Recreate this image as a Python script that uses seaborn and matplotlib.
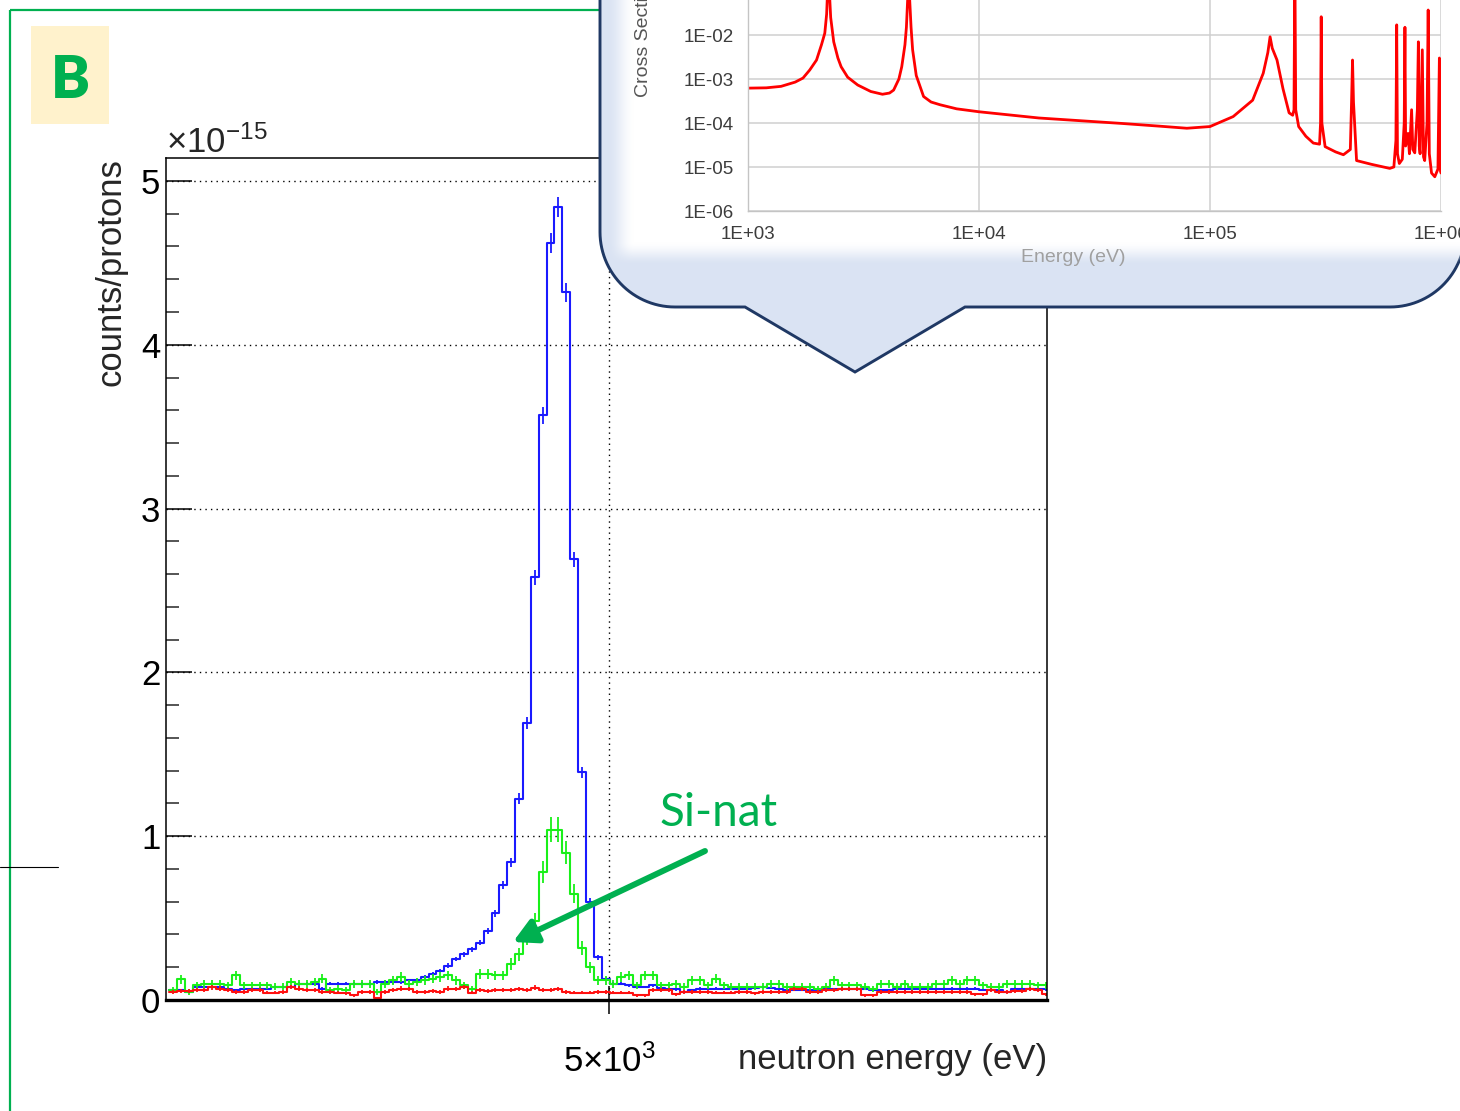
import numpy as np
import pandas as pd
import matplotlib
matplotlib.use("Agg")
import matplotlib.pyplot as plt
import seaborn as sns
from matplotlib.path import Path
from matplotlib.patches import PathPatch, Rectangle, FancyArrowPatch, ArrowStyle
from matplotlib.ticker import FixedLocator, FixedFormatter, NullLocator, MultipleLocator

# ---------------------------------------------------------------- data
# Neutron energy spectrum, counts per proton in units of 1e-15,
# 112 logarithmic bins between E_MIN and E_MAX (eV).
E_MIN, E_MAX = 2492.0, 10048.0
N_BINS = 112
AXIS_RANGE = (2480.0, 10000.0)

enriched_counts = [
    0.06, 0.06, 0.05, 0.08, 0.08, 0.08, 0.08, 0.07, 0.06, 0.07,
    0.07, 0.07, 0.07, 0.08, 0.08, 0.08, 0.10, 0.10, 0.10, 0.07,
    0.10, 0.10, 0.10, 0.10, 0.10, 0.10, 0.11, 0.11, 0.11, 0.11,
    0.12, 0.12, 0.14, 0.16, 0.18, 0.21, 0.25, 0.28, 0.31, 0.35,
    0.42, 0.53, 0.70, 0.84, 1.23, 1.69, 2.58, 3.57, 4.62, 4.84,
    4.32, 2.69, 1.39, 0.60, 0.26, 0.13, 0.10, 0.10, 0.09, 0.08,
    0.08, 0.09, 0.075, 0.065, 0.065, 0.05, 0.06, 0.07, 0.07, 0.07,
    0.07, 0.07, 0.07, 0.07, 0.075, 0.08, 0.075, 0.065, 0.06, 0.06,
    0.06, 0.06, 0.06, 0.065, 0.065, 0.07, 0.07, 0.07, 0.07, 0.06,
    0.06, 0.06, 0.065, 0.065, 0.065, 0.065, 0.065, 0.065, 0.07, 0.07,
    0.07, 0.07, 0.07, 0.06, 0.06, 0.06, 0.05, 0.07, 0.07, 0.065,
    0.065, 0.065,
]

sinat_counts = [
    0.06, 0.127, 0.05, 0.09, 0.10, 0.10, 0.10, 0.09, 0.15, 0.09,
    0.09, 0.09, 0.09, 0.08, 0.08, 0.11, 0.10, 0.10, 0.11, 0.13,
    0.06, 0.07, 0.06, 0.10, 0.10, 0.10, 0.05, 0.10, 0.12, 0.14,
    0.10, 0.11, 0.12, 0.13, 0.14, 0.15, 0.12, 0.09, 0.065, 0.16,
    0.16, 0.15, 0.15, 0.22, 0.28, 0.38, 0.48, 0.78, 1.04, 1.04,
    0.90, 0.65, 0.32, 0.20, 0.12, 0.12, 0.10, 0.14, 0.15, 0.09,
    0.15, 0.15, 0.09, 0.09, 0.10, 0.08, 0.12, 0.12, 0.09, 0.13,
    0.09, 0.08, 0.08, 0.08, 0.08, 0.08, 0.10, 0.10, 0.08, 0.08,
    0.08, 0.08, 0.065, 0.08, 0.12, 0.09, 0.09, 0.09, 0.08, 0.065,
    0.10, 0.10, 0.08, 0.10, 0.08, 0.08, 0.08, 0.10, 0.10, 0.12,
    0.10, 0.12, 0.12, 0.09, 0.08, 0.08, 0.10, 0.10, 0.10, 0.10,
    0.09, 0.09,
]

empty_counts = [
    0.05, 0.057, 0.057, 0.06, 0.06, 0.077, 0.07, 0.06, 0.05, 0.05,
    0.06, 0.06, 0.045, 0.045, 0.05, 0.08, 0.07, 0.06, 0.06, 0.05,
    0.05, 0.045, 0.04, 0.03, 0.05, 0.05, 0.01, 0.05, 0.06, 0.07,
    0.065, 0.05, 0.05, 0.057, 0.05, 0.07, 0.065, 0.08, 0.045, 0.06,
    0.057, 0.06, 0.06, 0.06, 0.065, 0.06, 0.075, 0.06, 0.06, 0.065,
    0.05, 0.045, 0.045, 0.045, 0.05, 0.05, 0.045, 0.045, 0.045, 0.03,
    0.03, 0.06, 0.06, 0.06, 0.035, 0.05, 0.05, 0.05, 0.05, 0.045,
    0.045, 0.045, 0.05, 0.05, 0.04, 0.05, 0.05, 0.05, 0.05, 0.065,
    0.065, 0.05, 0.05, 0.06, 0.06, 0.065, 0.065, 0.065, 0.03, 0.03,
    0.05, 0.05, 0.05, 0.05, 0.05, 0.05, 0.05, 0.05, 0.05, 0.05,
    0.05, 0.05, 0.035, 0.035, 0.06, 0.05, 0.05, 0.055, 0.055, 0.065,
    0.06, 0.035,
]

# statistical error scale of each spectrum (err = k * sqrt(counts))
error_scale = {"enriched": 0.028, "Si-nat": 0.075, "empty": 0.05}
series_colors = {"enriched": "#1a1aff", "Si-nat": "#19f019", "empty": "#ff1010"}

y_ticks = [0, 1, 2, 3, 4, 5]
x_tick_values = [5000]
x_tick_labels = [r"$5{\times}10^{3}$"]

# Capture cross section of silicon (barn) versus neutron energy (eV)
xs_energy = [
    1000, 1200, 1390, 1600, 1730, 1850, 1980, 2080, 2150, 2190,
    2210, 2230, 2250, 2280, 2350, 2450, 2530, 2700, 2985, 3400,
    3820, 4100, 4270, 4500, 4630, 4780, 4850, 4920, 4960, 5000,
    5080, 5160, 5350, 5755, 6200, 6780, 8000, 10000, 18150, 41200,
    60000, 79400, 100000, 126000, 153000, 170000, 178000, 182000, 186000, 195000,
    207000, 220000, 228000, 231000, 233000, 235000, 242000, 260000, 280000, 298000,
    301000, 303000, 305000, 315000, 350000, 378000, 405000, 410000, 414000, 418000,
    431000, 500000, 600000, 625000, 638000, 643000, 648000, 660000, 680000, 693000,
    698000, 703000, 720000, 730000, 746000, 755000, 770000, 790000, 798000, 805000,
    812000, 830000, 840000, 850000, 870000, 880000, 890000, 910000, 940000, 970000,
    984000, 995000, 1000000,
]
xs_sigma = [
    6.2e-4, 6.3e-4, 6.8e-4, 8.5e-4, 1.05e-3, 1.6e-3, 2.7e-3, 6.0e-3, 1.1e-2, 3.0e-2,
    1.0e-1, 5.0e-1, 1.0e-1, 2.5e-2, 7.0e-3, 3.0e-3, 1.9e-3, 1.1e-3, 7.3e-4, 5.2e-4,
    4.5e-4, 4.8e-4, 5.6e-4, 1.0e-3, 1.9e-3, 6.0e-3, 1.5e-2, 8.0e-2, 6.0e-1, 8.0e-2,
    1.5e-2, 4.6e-3, 1.2e-3, 4.0e-4, 3.0e-4, 2.6e-4, 2.1e-4, 1.8e-4, 1.3e-4, 9.8e-5,
    8.5e-5, 7.6e-5, 8.3e-5, 1.4e-4, 3.3e-4, 1.35e-3, 4.0e-3, 9.1e-3, 5.0e-3, 2.7e-3,
    6.0e-4, 1.7e-4, 1.5e-4, 2.0e-4, 5.0e-1, 2.0e-4, 8.3e-5, 5.0e-5, 3.5e-5, 3.3e-5,
    1.0e-4, 2.6e-2, 1.0e-4, 2.9e-5, 2.2e-5, 1.9e-5, 2.5e-5, 3.0e-4, 2.7e-3, 3.0e-4,
    1.4e-5, 1.15e-5, 9.3e-6, 1.0e-5, 4.0e-5, 1.7e-2, 2.0e-5, 1.2e-5, 1.5e-5, 1.0e-4,
    1.5e-2, 3.0e-5, 5.8e-5, 2.0e-5, 2.0e-4, 2.5e-5, 2.1e-5, 2.0e-4, 7.0e-3, 3.0e-5,
    2.0e-5, 4.6e-3, 1.7e-5, 1.4e-5, 1.0e-4, 3.7e-2, 2.0e-5, 7.3e-6, 6.0e-6, 9.0e-6,
    3.0e-3, 8.0e-6, 7.3e-6,
]
xs_yticks = [1e-6, 1e-5, 1e-4, 1e-3, 1e-2]
xs_ytick_labels = ["1E-06", "1E-05", "1E-04", "1E-03", "1E-02"]
xs_xticks = [1e3, 1e4, 1e5, 1e6]
xs_xtick_labels = ["1E+03", "1E+04", "1E+05", "1E+06"]

# ---------------------------------------------------------------- style
sns.set_theme(style="white")
plt.rcParams["font.family"] = ["Liberation Sans", "DejaVu Sans"]
plt.rcParams["mathtext.fontset"] = "custom"
plt.rcParams["mathtext.rm"] = "Liberation Sans"
plt.rcParams["mathtext.it"] = "Liberation Sans:italic"
plt.rcParams["mathtext.bf"] = "Liberation Sans:bold"

W, H = 1460, 1111
fig = plt.figure(figsize=(W / 100, H / 100), dpi=100)
fig.patch.set_facecolor("white")

GREEN = "#00b050"

# ---------------------------------------------------------------- spectrum
ax = fig.add_axes([166 / W, 1 - 1000 / H, (1047 - 166) / W, (1000 - 158) / H], zorder=1)
ax.set_facecolor("white")

edges = np.geomspace(E_MIN, E_MAX, N_BINS + 1)
centers = np.sqrt(edges[:-1] * edges[1:])

spectra = {"enriched": enriched_counts, "Si-nat": sinat_counts, "empty": empty_counts}
df = pd.concat(
    [pd.DataFrame({"energy": centers, "counts": vals, "target": name})
     for name, vals in spectra.items()],
    ignore_index=True,
)

sns.histplot(
    data=df, x="energy", weights="counts", hue="target",
    hue_order=["empty", "Si-nat", "enriched"], palette=series_colors,
    bins=list(edges), element="step", fill=False, linewidth=1.5,
    legend=False, ax=ax,
)
for name, vals in spectra.items():
    vals = np.asarray(vals)
    ax.errorbar(centers, vals, yerr=error_scale[name] * np.sqrt(vals),
                fmt="none", ecolor=series_colors[name], elinewidth=1.3, capsize=0)

ax.set_xscale("log")
ax.set_xlim(*AXIS_RANGE)
ax.set_ylim(0, 5.14)

ax.xaxis.set_major_locator(FixedLocator(x_tick_values))
ax.xaxis.set_major_formatter(FixedFormatter(x_tick_labels))
ax.xaxis.set_minor_locator(NullLocator())
ax.yaxis.set_major_locator(FixedLocator(y_ticks))
ax.yaxis.set_minor_locator(MultipleLocator(0.2))

ax.tick_params(axis="y", which="major", direction="in", length=19, width=1.1,
               labelsize=25, pad=4, colors="black", left=True)
ax.tick_params(axis="y", which="minor", direction="in", length=9, width=1.1, left=True)
ax.tick_params(axis="x", which="major", direction="inout", length=20, width=1.1,
               labelsize=25, pad=22, colors="black", bottom=True)

ax.grid(True, which="major", axis="both", color="black",
        linestyle=(0, (1, 3)), linewidth=1.0)
for side in ["left", "top", "right"]:
    ax.spines[side].set_color("black")
    ax.spines[side].set_linewidth(1.1)
ax.spines["bottom"].set_color("black")
ax.spines["bottom"].set_linewidth(2.4)

ax.set_ylabel("counts/protons", fontsize=25, loc="top")
ax.yaxis.set_label_coords(-0.044, 1.0)
ax.set_xlabel("neutron energy (eV)", fontsize=25, loc="right")
ax.xaxis.set_label_coords(1.0, -0.051)

# ---------------------------------------------------------------- decorations (pixel space)
ov = fig.add_axes([0, 0, 1, 1], zorder=2)
ov.set_axis_off()

ov.plot([10, 10], [10, H + 5], color=GREEN, lw=1.6, solid_capstyle="butt")
ov.plot([10, 640], [10, 10], color=GREEN, lw=1.6, solid_capstyle="butt")
ov.plot([0, 58], [867, 867], color="black", lw=0.8)

ov.add_patch(Rectangle((31, 26), 78, 98, facecolor="#fff2cc", edgecolor="none"))
ov.text(70.5, 98, "B", fontsize=42, fontweight="heavy", color=GREEN,
        family=["Lato", "DejaVu Sans"], ha="center", va="baseline")

ov.text(166, 153, r"$\times10^{-15}$", fontsize=25, ha="left", va="baseline")

ov.text(719, 826, "Si-nat", fontsize=33, color=GREEN,
        family=["Lato", "DejaVu Sans"], ha="center", va="baseline")
ov.add_patch(FancyArrowPatch((705, 851), (513, 942),
                             arrowstyle=ArrowStyle("-|>", head_length=1.4, head_width=0.75),
                             mutation_scale=10, lw=4.3, color=GREEN,
                             shrinkA=0, shrinkB=0))

# callout bubble
def arc(cx, cy, r, t0, t1, n=30):
    t = np.linspace(t0, t1, n)
    return [(cx + r * np.cos(a), cy + r * np.sin(a)) for a in t]

R = 75
verts = [(600, -30)] + arc(600 + R, 307 - R, R, np.pi, np.pi / 2) + \
        [(745, 307), (855, 372), (965, 307)] + \
        arc(1465 - R, 307 - R, R, np.pi / 2, 0) + [(1465, -30), (600, -30)]
codes = [Path.MOVETO] + [Path.LINETO] * (len(verts) - 2) + [Path.CLOSEPOLY]
bubble = PathPatch(Path(verts, codes), facecolor="#dae3f3", edgecolor="#1f3864",
                   lw=2.1, zorder=2)
ov.add_patch(bubble)

# white picture area inside the bubble, fading into the bubble colour
gx = np.linspace(595, 1475, 880)
gy = np.linspace(-20, 320, 340)
ax_fade = np.clip((gx - 606) / 28, 0, 1)
ay_fade = np.clip((266 - gy) / 24, 0, 1)
ax_fade = ax_fade * ax_fade * (3 - 2 * ax_fade)
ay_fade = ay_fade * ay_fade * (3 - 2 * ay_fade)
img = np.ones((gy.size, gx.size, 4))
img[..., 3] = np.outer(ay_fade, ax_fade)
im = ov.imshow(img, extent=(595, 1475, 320, -20), interpolation="bilinear",
               aspect="auto", zorder=3)
im.set_clip_path(bubble)

ov.text(643, 97, "Cross Section (b)", rotation=90, rotation_mode="anchor",
        ha="left", va="center", fontsize=14, color="#555555", zorder=5)
ov.text(1073, 257, "Energy (eV)", ha="center", va="center", fontsize=14,
        color="#a0a0a0", zorder=5)

ov.set_xlim(0, W)
ov.set_ylim(H, 0)

# ---------------------------------------------------------------- cross-section inset
ax_in = fig.add_axes([748 / W, 1 - 211 / H, (1441 - 748) / W, 211 / H], zorder=3)
ax_in.patch.set_visible(False)
sns.lineplot(x=xs_energy, y=xs_sigma, color="#ff0000", linewidth=2.0,
             sort=False, estimator=None, ax=ax_in)
ax_in.set_xscale("log")
ax_in.set_yscale("log")
ax_in.set_xlim(1e3, 1e6)
ax_in.set_ylim(1e-6, 10 ** (-6 + 211 / 44))
ax_in.xaxis.set_major_locator(FixedLocator(xs_xticks))
ax_in.xaxis.set_major_formatter(FixedFormatter(xs_xtick_labels))
ax_in.yaxis.set_major_locator(FixedLocator(xs_yticks))
ax_in.yaxis.set_major_formatter(FixedFormatter(xs_ytick_labels))
ax_in.xaxis.set_minor_locator(NullLocator())
ax_in.yaxis.set_minor_locator(NullLocator())
ax_in.grid(True, which="major", color="#cfcfcf", linewidth=1.1)
ax_in.set_axisbelow(True)
ax_in.tick_params(axis="both", which="major", direction="out", length=5,
                  width=1.0, color="#bbbbbb", labelsize=13.5, labelcolor="#3c3c3c")
ax_in.tick_params(axis="y", pad=5)
ax_in.tick_params(axis="x", pad=6)
for side in ["top", "right"]:
    ax_in.spines[side].set_visible(False)
for side in ["left", "bottom"]:
    ax_in.spines[side].set_color("#c4c4c4")
    ax_in.spines[side].set_linewidth(1.0)
ax_in.set_xlabel("")
ax_in.set_ylabel("")

fig.savefig("out.png", dpi=100, facecolor="white")
